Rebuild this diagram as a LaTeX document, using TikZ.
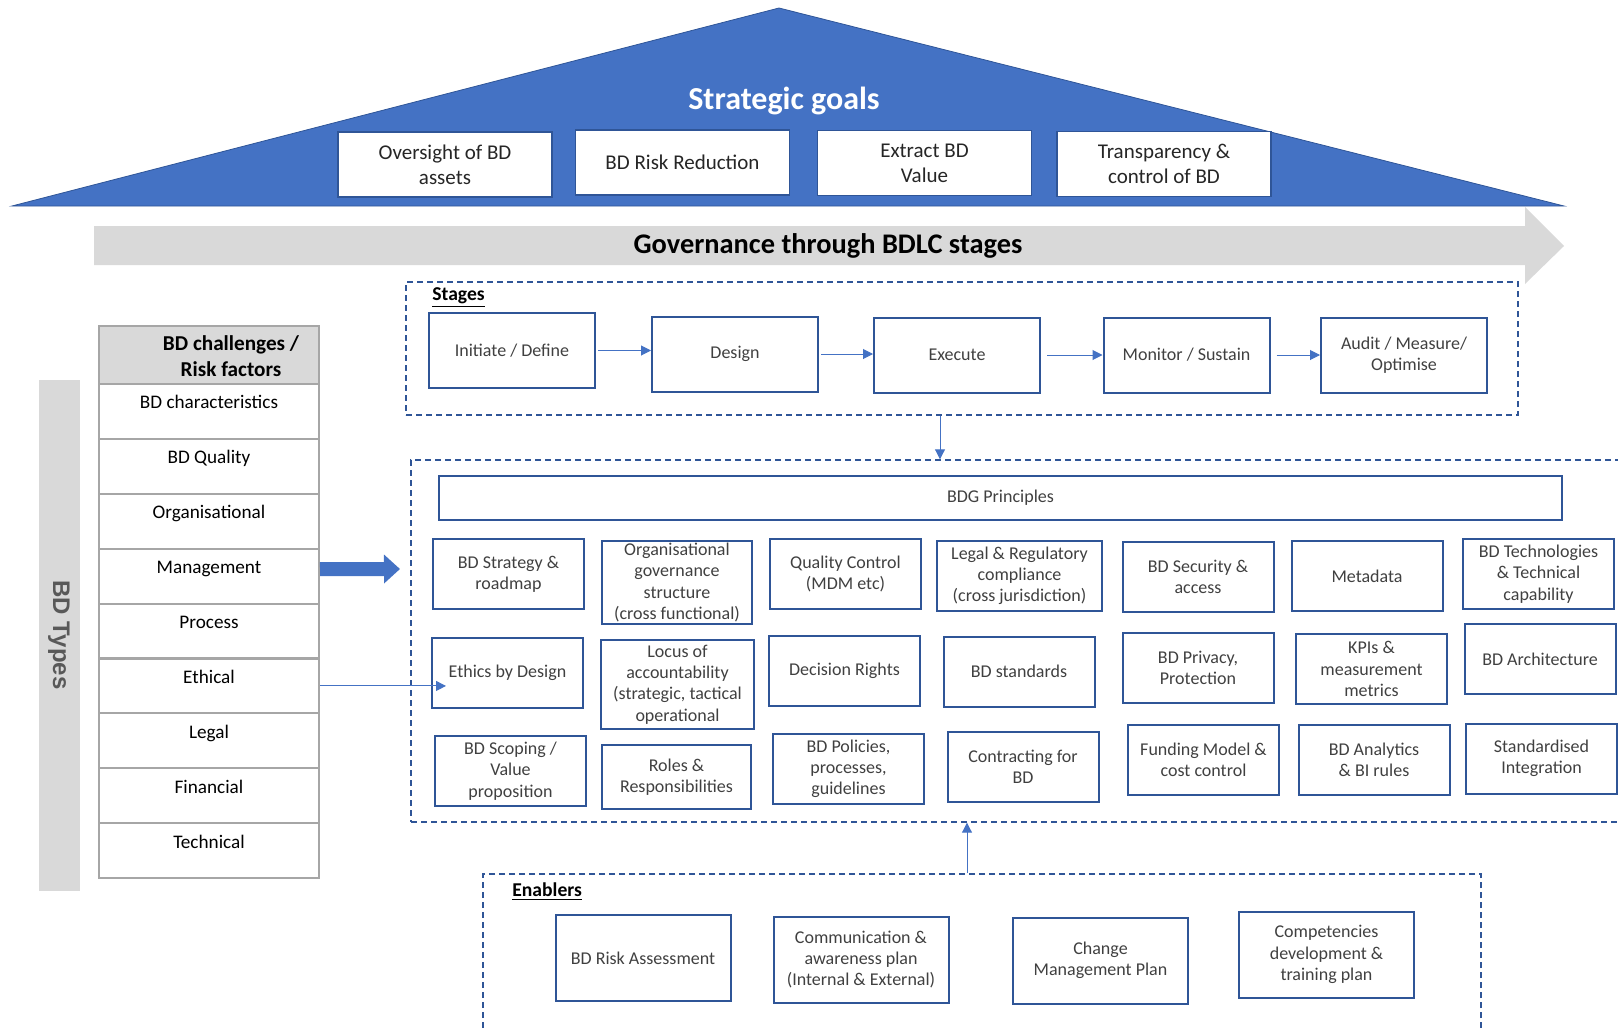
\documentclass[tikz,border=0pt]{standalone}
\usepackage{fontspec}
\setmainfont{Carlito}
\newfontfamily\typesfont{Liberation Sans}
\usepackage{tikz}
\usetikzlibrary{arrows.meta}

\definecolor{goalblue}{HTML}{4472C4}
\definecolor{darkblue}{HTML}{2F5597}
\definecolor{bargray}{HTML}{D9D9D9}
\definecolor{cellgray}{HTML}{A6A6A6}
\definecolor{txtgray}{HTML}{404040}
\definecolor{typesgray}{HTML}{595959}

\tikzset{
	goalbox/.style={draw=darkblue, fill=white, line width=0.8pt, minimum width=107pt,
		minimum height=32.5pt, align=center, text=black!85,
		font=\fontsize{10.5}{12.4}\selectfont},
	stagebox/.style={draw=darkblue, line width=1pt, minimum width=83pt,
		minimum height=37.5pt, align=center, text=txtgray,
		font=\fontsize{9}{10.6}\selectfont},
	pbox/.style={draw=darkblue, line width=1pt, minimum width=75.5pt,
		minimum height=35pt, align=center, inner sep=1pt, text=txtgray,
		font=\fontsize{9}{10.6}\selectfont},
	ebox/.style={pbox, minimum width=87.5pt, minimum height=43pt},
	cell/.style={draw=cellgray, line width=1pt, minimum width=110pt, inner xsep=1pt,
		inner ysep=3pt, text height=9.5pt, text depth=12pt,
		font=\fontsize{9.6}{11}\selectfont},
	dashbox/.style={draw=darkblue, line width=0.7pt, dash pattern=on 3pt off 2pt},
	arr/.style={-{Triangle[length=5pt,width=5pt]}, goalblue, line width=0.5pt},
	lbl/.style={anchor=west, inner sep=0pt, font=\bfseries\fontsize{9.8}{11}\selectfont}
}

\begin{document}
\begin{tikzpicture}[x=0.5pt,y=-0.5pt]
	\useasboundingbox (0,0) rectangle (1618,1028);
	% dach mit den zielen
	\filldraw[fill=goalblue, draw=darkblue, line width=0.4pt]
		(12,206) -- (779,8) -- (1564,206) -- cycle;
	\node[text=white, font=\bfseries\fontsize{16}{18}\selectfont] (goals) at (784,101)
		{Strategic goals};
	\node[goalbox] (oversight) at (445,164.5) {Oversight of BD\\assets};
	\node[goalbox] (riskred) at (682.5,162.5) {BD Risk Reduction};
	\node[goalbox] (extract) at (924.5,163) {Extract BD\\Value};
	\node[goalbox] (transp) at (1164,164) {Transparency \&\\control of BD};
	% grauer pfeil
	\fill[bargray] (94,226) -- (1525,226) -- (1525,207) -- (1564,246)
		-- (1525,284) -- (1525,265) -- (94,265) -- cycle;
	\node[font=\bfseries\fontsize{14.2}{16}\selectfont] (gov) at (828,246)
		{Governance through BDLC stages};
	% gestrichelte rahmen
	\node[dashbox, minimum width=556pt, minimum height=66.5pt] (stagesbox) at (962,348.5) {};
	\node[dashbox, minimum width=614.5pt, minimum height=181pt] (principles) at (1025.5,641) {};
	\node[dashbox, minimum width=499pt, minimum height=88pt] (enablers) at (982,962) {};
	\node[lbl] (stageslbl) at (432,298) {\underline{Stages}};
	\node[lbl] (enablerslbl) at (512,892) {\underline{Enablers}};
	% die stufen
	\node[stagebox] (initiate) at (512,350.5) {Initiate / Define};
	\node[stagebox] (design) at (735,354) {Design};
	\node[stagebox] (execute) at (957,355) {Execute};
	\node[stagebox] (monitor) at (1186.5,355) {Monitor / Sustain};
	\node[stagebox] (audit) at (1404,355) {Audit / Measure/\\Optimise};
	\draw[arr, shorten <=1pt] (initiate.east) -- (initiate.east -| design.west);
	\draw[arr, shorten <=1pt] (design.east) -- (design.east -| execute.west);
	\draw[arr, shorten <=3pt] (execute.east) -- (execute.east -| monitor.west);
	\draw[arr, shorten <=3pt] (monitor.east) -- (monitor.east -| audit.west);
	% prinzipien
	\node[pbox, minimum width=561.5pt, minimum height=22pt] (bdg) at (1000.5,498) {BDG Principles};
	\node[pbox] (strategy) at (508.5,574) {BD Strategy \&\\roadmap};
	\node[pbox, minimum width=75pt, minimum height=41.5pt] (orggov) at (677,582.5)
		{Organisational\\governance\\structure\\(cross functional)};
	\node[pbox] (quality) at (845.5,574) {Quality Control\\(MDM etc)};
	\node[pbox, minimum width=82.5pt] (legalreg) at (1019.5,576)
		{Legal \& Regulatory\\compliance\\(cross jurisdiction)};
	\node[pbox] (security) at (1198,576.5) {BD Security \&\\access};
	\node[pbox] (metadata) at (1367,576) {Metadata};
	\node[pbox] (techcap) at (1538.5,574) {BD Technologies\\\& Technical\\capability};
	\node[pbox] (ethics) at (507.5,673) {Ethics by Design};
	\node[pbox, minimum width=76.5pt, minimum height=44.5pt] (locus) at (677.5,684.5)
		{Locus of\\accountability\\(strategic, tactical\\operational};
	\node[pbox] (decision) at (844.5,671) {Decision Rights};
	\node[pbox] (standards) at (1019,671.5) {BD standards};
	\node[pbox] (privacy) at (1198,668) {BD Privacy,\\Protection};
	\node[pbox] (kpis) at (1371.5,669) {KPIs \&\\measurement\\metrics};
	\node[pbox] (architecture) at (1540,659) {BD Architecture};
	\node[pbox] (scoping) at (510.5,771) {BD Scoping /\\Value\\proposition};
	\node[pbox, minimum width=74.5pt, minimum height=32pt] (roles) at (676.5,777)
		{Roles \&\\Responsibilities};
	\node[pbox] (policies) at (848.5,769) {BD Policies,\\processes,\\guidelines};
	\node[pbox] (contracting) at (1023,767) {Contracting for\\BD};
	\node[pbox] (funding) at (1203.5,759.5) {Funding Model \&\\cost control};
	\node[pbox] (analytics) at (1374,759.5) {BD Analytics\\\& BI rules};
	\node[pbox] (integration) at (1541.5,758.5) {Standardised\\Integration};
	% enabler
	\node[ebox] (riskass) at (643,958) {BD Risk Assessment};
	\node[ebox] (comms) at (861,959.5) {Communication \&\\awareness plan\\(Internal \& External)};
	\node[ebox] (change) at (1100.5,960.5) {Change\\Management Plan};
	\node[ebox] (competencies) at (1326.5,954.5) {Competencies\\development \&\\training plan};
	% pfeile zwischen den rahmen
	\coordinate (stagesout) at ([xshift=-11pt]stagesbox.south);
	\draw[arr] (stagesout) -- (stagesout |- principles.north);
	\coordinate (enabout) at ([xshift=-7.5pt]enablers.north);
	\draw[arr] (enabout) -- (enabout |- principles.south);
	% linke spalte
	\fill[bargray] (39,380) rectangle (80,891);
	\node[rotate=-90, text=typesgray, font=\typesfont\bfseries\fontsize{12}{14}\selectfont]
		(bdtypes) at (59,635) {BD Types};
	\node[draw=cellgray, fill=bargray, line width=1pt, minimum width=110pt,
		minimum height=29pt] (header) at (209,355) {};
	\node[align=center, font=\bfseries\fontsize{10.6}{12.9}\selectfont] (headertxt) at (231,356)
		{BD challenges /\\Risk factors};
	\node[cell] (charact) at (209,411.45) {BD characteristics};
	\node[cell] (bdquality) at (209,466.35) {BD Quality};
	\node[cell] (organis) at (209,521.25) {Organisational};
	\node[cell] (mgmt) at (209,576.15) {Management};
	\node[cell] (process) at (209,631.05) {Process};
	\node[cell] (ethical) at (209,685.95) {Ethical};
	\node[cell] (legal) at (209,740.85) {Legal};
	\node[cell] (financial) at (209,795.75) {Financial};
	\node[cell] (technical) at (209,850.65) {Technical};
	% pfeile nach rechts
	\coordinate (mgmttip) at (400,569);
	\draw[goalblue, line width=7pt, -{Triangle[length=8pt,width=14pt]}]
		([yshift=3.5pt]mgmt.east) -- (mgmttip);
	\coordinate (ethtip) at ([xshift=7.5pt]ethics.west);
	\draw[arr] (ethical.east) -- (ethical.east -| ethtip);
\end{tikzpicture}
\end{document}
